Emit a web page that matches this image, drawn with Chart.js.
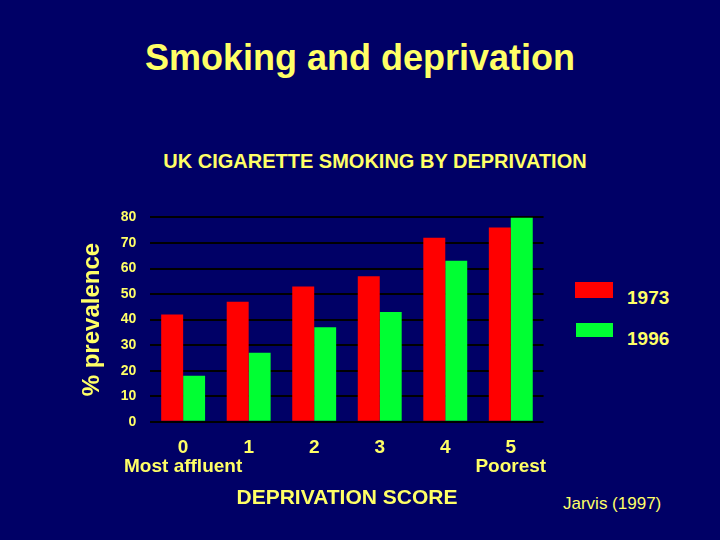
<!DOCTYPE html>
<html><head><meta charset="utf-8">
<script src="https://cdn.jsdelivr.net/npm/chart.js@4"></script>
<style>
body{margin:0;background:#000066;width:720px;height:540px;overflow:hidden;font-family:"Liberation Sans",Arial,sans-serif;color:#ffff66;}
.t{position:absolute;font-weight:bold;white-space:nowrap;}
#wrap{position:absolute;left:78px;top:195px;width:477px;height:320px;}
</style></head><body>
<div class="t" style="left:0;width:720px;text-align:center;top:37px;font-size:36px;">Smoking and deprivation</div>
<div class="t" style="left:0;width:750px;text-align:center;top:150px;font-size:20px;">UK CIGARETTE SMOKING BY DEPRIVATION</div>
<div style="position:absolute;left:575px;top:282px;width:38px;height:16px;background:#ff0000"></div>
<div class="t" style="left:627px;top:287px;font-size:19px;">1973</div>
<div style="position:absolute;left:576px;top:323px;width:37px;height:14px;background:#00ff33"></div>
<div class="t" style="left:627px;top:328px;font-size:19px;">1996</div>
<div class="t" style="left:563px;top:494px;font-size:17px;font-weight:normal;">Jarvis (1997)</div>
<div id="wrap"><canvas id="c"></canvas></div>
<script>
const categories=[["0","Most affluent"],"1","2","3","4",["5","Poorest"]];
const series1973=[42,47,53,57,72,76];
const series1996=[18,27,37,43,63,80];
const yTicks=[0,10,20,30,40,50,60,70,80];
const font={family:'"Liberation Sans",Arial,sans-serif',weight:'bold'};
new Chart(document.getElementById('c'),{
type:'bar',
data:{labels:categories,datasets:[
{label:'1973',data:series1973,backgroundColor:'#ff0000',borderWidth:0},
{label:'1996',data:series1996,backgroundColor:'#00ff33',borderWidth:0}]},
options:{responsive:true,maintainAspectRatio:false,animation:false,
layout:{padding:{right:10,top:6}},
categoryPercentage:0.67,barPercentage:1,
plugins:{legend:{display:false},tooltip:{enabled:false}},
scales:{
x:{grid:{display:false},border:{display:false},
ticks:{color:'#ffff66',font:{...font,size:19,lineHeight:1.0},padding:8,maxRotation:0,autoSkip:false},
title:{display:true,text:'DEPRIVATION SCORE',color:'#ffff66',font:{...font,size:21},padding:{top:2}}},
y:{min:0,max:80,afterBuildTicks:a=>{a.ticks=yTicks.map(v=>({value:v}));},
grid:{color:'#000000',lineWidth:2,drawTicks:false},border:{display:false},
ticks:{color:'#ffff66',font:{...font,size:14},padding:14},
title:{display:true,text:'% prevalence',color:'#ffff66',font:{...font,size:24},padding:0}}
}}});
</script></body></html>
